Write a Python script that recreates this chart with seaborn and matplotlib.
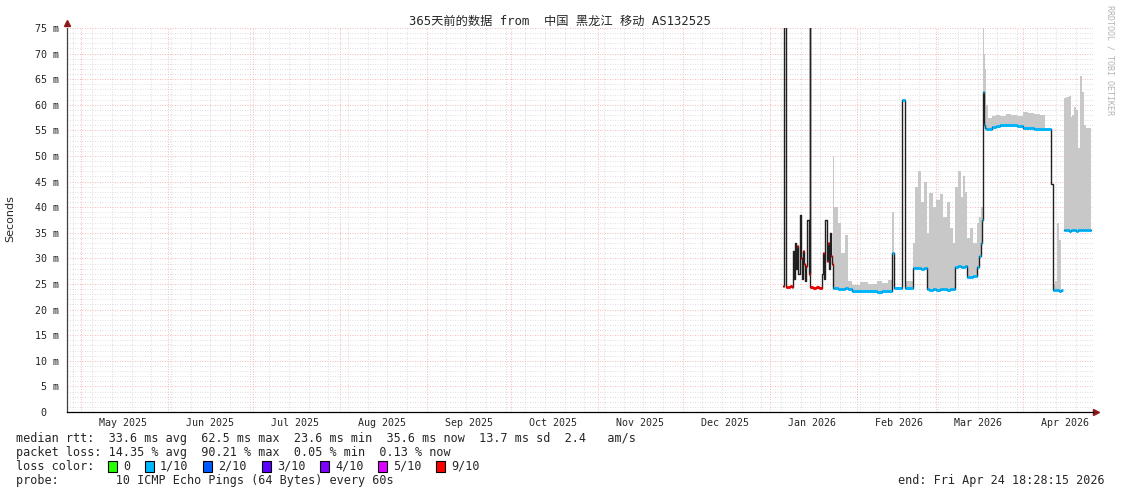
import numpy as np
import pandas as pd
import matplotlib
matplotlib.use("Agg")
import matplotlib.pyplot as plt
import matplotlib.dates as mdates
from matplotlib.patches import Rectangle
from matplotlib.ticker import MultipleLocator, FuncFormatter
import seaborn as sns

nan = np.nan

# step start times, days after 2026-01-01 00:00 (last entry closes the series)
t_day = [4.7, 5.0, 5.9, 6.5, 7.3, 8.0, 8.2, 8.6, 9.0, 9.4, 9.8, 10.2, 10.6, 11.0, 11.4, 11.8, 12.2, 12.6,
         13.0, 13.4, 13.8, 14.2, 14.5, 15.5, 16.5, 17.5, 18.6, 19.0, 19.4, 19.8, 20.2, 20.6, 21.0, 21.4, 21.8, 22.1,
         22.4, 22.9, 24.2, 25.3, 26.7, 27.8, 29.2, 32.0, 35.0, 38.0, 40.0, 42.0, 43.4, 44.2, 47.2, 48.0,
         50.9, 51.8, 52.8, 53.8, 54.8, 55.9, 56.8, 58.0, 59.2, 60.5, 61.8, 63.0, 64.2, 65.2,
         65.9, 66.9, 67.9, 68.9, 69.6, 70.1, 71.2, 72.4, 73.7, 74.4, 75.0, 75.4, 75.8, 76.2, 76.6, 77.1,
         77.8, 79.0, 80.5, 82.0, 84.0, 86.0, 88.0, 90.0, 92.0, 94.0, 96.0, 98.0,
         100.0, 100.6, 101.4, 102.3, 103.0, 103.7, 104.3, 104.8, 105.5, 106.3, 107.0, 107.7, 108.4, 109.1,
         109.8, 110.5, 111.2, 111.9, 112.6, 114.3]

# median rtt (ms)
med_ms = [24.6, 80.0, 24.5, 24.4, 24.7, 24.5, 31.5, 26.0, 33.0, 28.0, 32.5, 27.0, 38.5, 30.0, 26.0, 31.5, 29.0, 25.5,
          28.5, 37.5, 27.0, 80.0, 24.4, 24.2, 24.5, 24.3, 27.0, 31.0, 26.0, 37.5, 29.5, 33.0, 28.0, 35.0, 30.5, 29.0,
          24.2, 24.2, 24.1, 24.1, 24.2, 24.0, 23.7, 23.6, 23.6, 23.5, 23.6, 23.6, 31.0, 24.3, 61.0, 24.2,
          28.1, 28.1, 28.2, 28.0, 28.1, 24.0, 23.9, 24.0, 23.9, 24.0, 24.1, 23.9, 24.0, 24.1,
          28.4, 28.5, 28.3, 28.4, 28.5, 26.4, 26.4, 26.5, 28.3, 30.5, 33.0, 37.5, 62.5, 56.0, 55.5, 55.3,
          55.2, 55.6, 55.9, 56.0, 56.0, 56.0, 55.9, 55.5, 55.4, 55.3, 55.2, 55.2,
          44.5, 23.8, 23.8, 23.8, 23.7, 23.8, nan, 35.5, 35.6, 35.4, 35.5, 35.6, 35.5, 35.4,
          35.5, 35.6, 35.5, 35.5, 35.6, 35.6]

# top of the smoke (slowest ping, ms)
smoke_hi = [nan, nan, nan, nan, nan, nan, nan, nan, nan, nan, nan, nan, nan, nan, nan, nan, nan, nan,
            nan, nan, nan, nan, nan, nan, nan, nan, nan, nan, nan, nan, nan, nan, nan, nan, nan, nan,
            50.0, 40.0, 37.0, 31.0, 34.5, 25.5, 24.8, 25.3, 25.0, 25.6, 25.2, 25.8, 39.0, 25.0, nan, 25.5,
            33.0, 44.0, 47.0, 41.0, 45.0, 35.0, 42.8, 40.0, 41.5, 42.5, 38.0, 41.0, 36.0, 33.0,
            44.0, 47.0, 42.0, 46.0, 43.0, 34.0, 36.0, 33.0, 37.0, 38.0, 40.0, 40.0, 76.0, 70.0, 67.0, 60.0,
            57.5, 57.8, 58.0, 57.8, 58.2, 58.0, 57.8, 58.5, 58.4, 58.2, 58.0, 57.0,
            nan, 25.0, 25.5, 37.0, 33.5, 33.0, nan, 61.3, 61.5, 61.8, 57.6, 58.0, 59.6, 59.0,
            51.5, 65.6, 62.5, 56.0, 55.5, 55.5]

# loss class per step (-1 = no colour band, 1 = 1/10, 9 = 9/10)
loss = [9, -1, 9, 9, 9, 9, -1, -1, -1, -1, 9, -1, -1, 9, -1, 9, 9, -1,
        9, -1, 9, -1, 9, 9, 9, 9, -1, 9, -1, -1, 9, 9, -1, -1, 9, 9,
        1, 1, 1, 1, 1, 1, 1, 1, 1, 1, 1, 1, 1, 1, 1, 1,
        1, 1, 1, 1, 1, 1, 1, 1, 1, 1, 1, 1, 1, 1,
        1, 1, 1, 1, 1, 1, 1, 1, 1, 1, 1, 1, 1, 1, 1, 1,
        1, 1, 1, 1, 1, 1, 1, 1, 1, 1, 1, 1,
        -1, 1, 1, 1, 1, 1, -1, 1, 1, 1, 1, 1, 1, 1,
        1, 1, 1, 1, 1, 1]

loss_labels = ["0", "1/10", "2/10", "3/10", "4/10", "5/10", "9/10"]
loss_codes = [0, 1, 2, 3, 4, 5, 9]
loss_colors = ["#26ff00", "#00b8ff", "#0059ff", "#5e00ff", "#7e00ff", "#dd00ff", "#ff0000"]

title = "365天前的数据 from  中国 黑龙江 移动 AS132525"
stats_rtt = "median rtt:  33.6 ms avg  62.5 ms max  23.6 ms min  35.6 ms now  13.7 ms sd  2.4   am/s"
stats_loss = "packet loss: 14.35 % avg  90.21 % max  0.05 % min  0.13 % now"
probe = "probe:        10 ICMP Echo Pings (64 Bytes) every 60s"
end_txt = "end: Fri Apr 24 18:28:15 2026"

W, H = 1121, 494
sns.set_style("white")
plt.rcParams['font.family'] = ['DejaVu Sans Mono', 'Noto Sans CJK SC']

base = mdates.date2num(pd.Timestamp("2026-01-01"))
x = base + np.array(t_day)
med = np.array(med_ms)
hi = np.array(smoke_hi)
# split the median line where there is no data
df = pd.DataFrame({"time": x, "median": med, "seg": np.cumsum(np.isnan(med))})

fig = plt.figure(figsize=(W / 100, H / 100), dpi=100)
ax = fig.add_axes([67 / W, 1 - 412 / H, (1093 - 67) / W, (412 - 28) / H])

# smoke
ax.fill_between(x, med, hi, step="post", color="#c8c8c8", lw=0, zorder=2)
# median line
sns.lineplot(data=df.dropna(), x="time", y="median", units="seg", estimator=None, sort=False,
             drawstyle="steps-post", color="#202020", lw=1.0, ax=ax, zorder=3)
# loss colour bands
cmap = dict(zip(loss_codes, loss_colors))
lc = np.array(loss[:-1])
keep = lc >= 0
ax.hlines(med[:-1][keep], x[:-1][keep], x[1:][keep],
          colors=[cmap[c] for c in lc[keep]], lw=2.2, zorder=4)

ax.set_xlim(mdates.date2num(pd.Timestamp("2025-04-26")), mdates.date2num(pd.Timestamp("2026-04-26")))
ax.set_ylim(0, 75)
ax.set_xlabel("")
ax.set_ylabel("")

ax.xaxis.set_major_locator(mdates.MonthLocator())
ax.xaxis.set_minor_locator(mdates.WeekdayLocator(byweekday=mdates.MO))
ax.yaxis.set_major_locator(MultipleLocator(5))
ax.yaxis.set_minor_locator(MultipleLocator(1))
ax.yaxis.set_major_formatter(FuncFormatter(lambda v, p: f"{v:.0f} m" if v else "0  "))
ax.tick_params(axis="x", which="both", labelbottom=False)
ax.tick_params(axis="x", which="major", length=3, color="#ff8080", direction="inout")
ax.tick_params(axis="x", which="minor", length=2, color="#b0b0b0", direction="inout")
ax.tick_params(axis="y", which="major", length=3, color="#404040", direction="out", labelsize=7.2, pad=3)
ax.tick_params(axis="y", which="minor", length=0)

ax.set_axisbelow(True)
ax.grid(which="major", color="#f4a0a0", ls=(0, (1, 2)), lw=0.6)
ax.grid(which="minor", color="#d2d2d2", ls=(0, (1, 2)), lw=0.6)

for s in ["top", "right"]:
    ax.spines[s].set_visible(False)
ax.spines["left"].set_color("#404040")
ax.spines["left"].set_linewidth(0.9)
ax.spines["bottom"].set_color("black")
ax.spines["bottom"].set_linewidth(0.9)
ax.plot([0], [1.012], marker="^", ms=4, color="#8b1a1a", transform=ax.transAxes, clip_on=False)
ax.plot([1.003], [0], marker=">", ms=4, color="#8b1a1a", transform=ax.transAxes, clip_on=False)

sec = ax.secondary_xaxis("bottom")
sec.xaxis.set_major_locator(mdates.MonthLocator(bymonthday=16))
sec.xaxis.set_major_formatter(mdates.DateFormatter("%b %Y"))
sec.tick_params(length=0, labelsize=7.2, pad=4)
sec.spines["bottom"].set_visible(False)


def px(xp, yp):
    return xp / W, 1 - yp / H


fig.text(*px(560, 21), title, ha="center", va="center", fontsize=8.8)
fig.text(*px(10, 219), "Seconds", ha="center", va="center", rotation=90, fontsize=8,
         family="DejaVu Sans")
fig.text(*px(1110, 60), "RRDTOOL / TOBI OETIKER", ha="center", va="center", rotation=-90,
         fontsize=6, color="#b4b4b4")

fig.text(*px(16, 438), stats_rtt, ha="left", va="center", fontsize=8.5)
fig.text(*px(16, 452), stats_loss, ha="left", va="center", fontsize=8.5)
fig.text(*px(16, 466), "loss color:", ha="left", va="center", fontsize=8.5)
box_x = [108, 145, 203, 262, 320, 378, 436]
for bx, lab, col in zip(box_x, loss_labels, loss_colors):
    fig.patches.append(Rectangle(px(bx, 472), 8.5 / W, 11 / H, transform=fig.transFigure,
                                 facecolor=col, edgecolor="black", lw=0.8))
    fig.text(*px(bx + 15, 466), lab, ha="left", va="center", fontsize=8.5)
fig.text(*px(16, 480), probe, ha="left", va="center", fontsize=8.5)
fig.text(*px(1105, 480), end_txt, ha="right", va="center", fontsize=8.5)

fig.savefig("out.png", dpi=100)
